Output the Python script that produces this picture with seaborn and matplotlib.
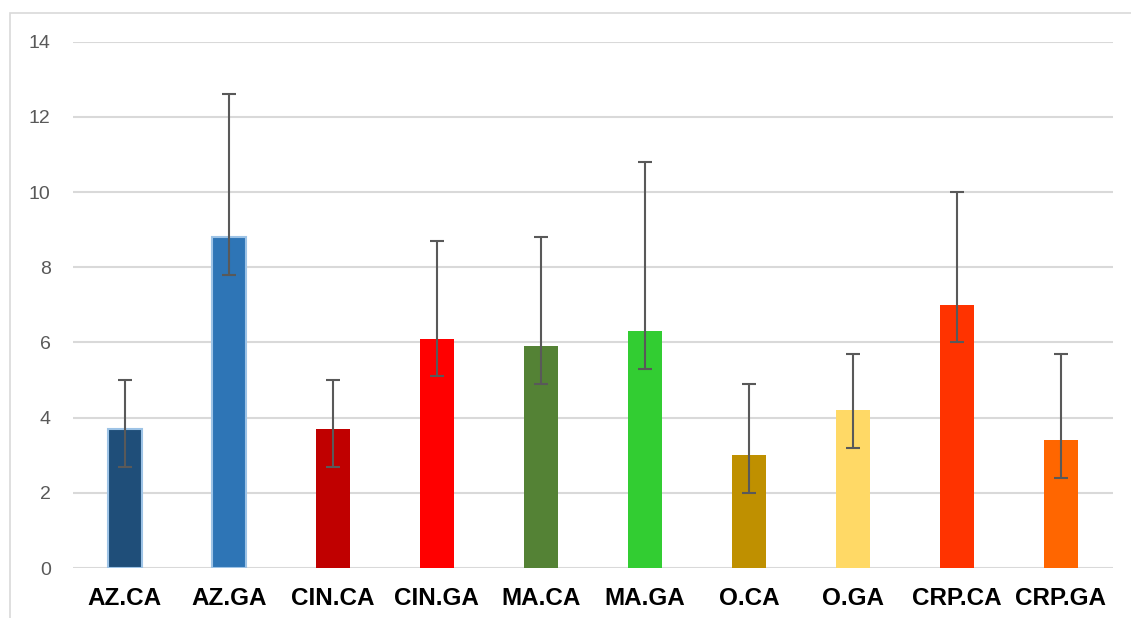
import numpy as np
import pandas as pd
import matplotlib
matplotlib.use('Agg')
import matplotlib.pyplot as plt
import seaborn as sns
from matplotlib.patches import Rectangle

# ----- data -----
groups = ['AZ.CA', 'AZ.GA', 'CIN.CA', 'CIN.GA', 'MA.CA', 'MA.GA', 'O.CA', 'O.GA', 'CRP.CA', 'CRP.GA']
means = [3.7, 8.8, 3.7, 6.1, 5.9, 6.3, 3.0, 4.2, 7.0, 3.4]
err_low = [1.0, 1.0, 1.0, 1.0, 1.0, 1.0, 1.0, 1.0, 1.0, 1.0]
err_high = [1.3, 3.8, 1.3, 2.6, 2.9, 4.5, 1.9, 1.5, 3.0, 2.3]
colors = ['#1F4E79', '#2E75B6', '#C00000', '#FF0000', '#548235',
          '#32CD32', '#BF9000', '#FFD966', '#FF3300', '#FF6600']

df = pd.DataFrame({'group': groups, 'mean': means})

sns.set_style('white')
plt.rcParams['font.family'] = ['Liberation Sans', 'DejaVu Sans']

fig = plt.figure(figsize=(11.31, 6.18), dpi=100)
ax = fig.add_axes([0.0645, 0.0809, 0.9195, 0.8515])

# outer frame like the office chart border
fig.patches.append(Rectangle((10 / 1131, -0.1), 1.2, (618 - 13) / 618 + 0.1,
                             transform=fig.transFigure, fill=False,
                             edgecolor='#D9D9D9', lw=1.2, zorder=0))

sns.barplot(data=df, x='group', y='mean', hue='group', palette=colors,
            saturation=1, legend=False, width=0.32, ax=ax, zorder=3)

# light blue outline on the two AZ bars
for i, p in enumerate(ax.patches):
    if i < 2:
        p.set_edgecolor('#9DC3E6')
        p.set_linewidth(1.5)
    else:
        p.set_linewidth(0)

ax.errorbar(np.arange(len(groups)), means, yerr=[err_low, err_high], fmt='none',
            ecolor='#595959', elinewidth=1.5, capsize=5, capthick=1.5, zorder=4)

ax.set_ylim(0, 14)
ax.set_xlim(-0.5, 9.5)
ax.set_yticks(range(0, 15, 2))
ax.yaxis.grid(True, color='#D9D9D9', lw=1.5, zorder=0)
ax.set_axisbelow(True)
for s in ax.spines.values():
    s.set_visible(False)

ax.set_xlabel('')
ax.set_ylabel('')
ax.tick_params(axis='y', length=0, pad=16, labelsize=14, labelcolor='#595959')
ax.tick_params(axis='x', length=0, pad=14)
for lbl in ax.get_xticklabels():
    lbl.set_fontweight('bold')
    lbl.set_fontsize(17.5)
    lbl.set_color('black')

fig.savefig('out.png', dpi=100)
